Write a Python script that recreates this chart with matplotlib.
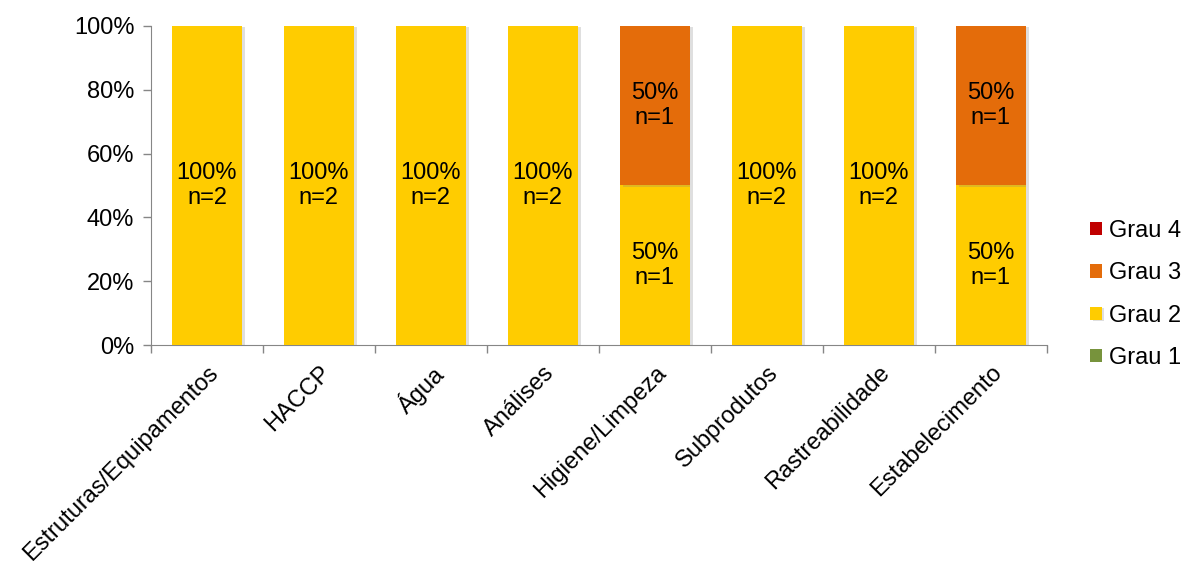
import matplotlib.pyplot as plt
import matplotlib.patheffects as pe
import numpy as np

plt.rcParams['font.family'] = ['Liberation Sans', 'DejaVu Sans']

# Dados
categorias = ['Estruturas/Equipamentos', 'HACCP', 'Água', 'Análises',
              'Higiene/Limpeza', 'Subprodutos', 'Rastreabilidade', 'Estabelecimento']
grau1 = [0, 0, 0, 0, 0, 0, 0, 0]
grau2 = [2, 2, 2, 2, 1, 2, 2, 1]
grau3 = [0, 0, 0, 0, 1, 0, 0, 1]
grau4 = [0, 0, 0, 0, 0, 0, 0, 0]

series = [('Grau 1', grau1, '#77933C'),
          ('Grau 2', grau2, '#FFCC00'),
          ('Grau 3', grau3, '#E46C0A'),
          ('Grau 4', grau4, '#C00000')]

total = np.array(grau1) + np.array(grau2) + np.array(grau3) + np.array(grau4)

fig = plt.figure(figsize=(11.82, 5.61), dpi=100)
ax = fig.add_axes([0.1277, 0.385, 0.758, 0.5687])

# sombra leve nas barras (estilo Excel)
sombra = [pe.SimplePatchShadow(offset=(2, -1), shadow_rgbFace='#808080', alpha=0.25), pe.Normal()]

x = np.arange(len(categorias))
base = np.zeros(len(categorias))
handles = []
for nome, vals, cor in series:
    vals = np.array(vals, dtype=float)
    pct = vals / total * 100
    b = ax.bar(x, pct, bottom=base, width=0.625, color=cor, label=nome, zorder=3)
    for r in b:
        if r.get_height() > 0:
            r.set_path_effects(sombra)
    handles.append(b)
    for i in range(len(x)):
        if vals[i] > 0:
            ax.text(x[i], base[i] + pct[i] / 2, f'{pct[i]:.0f}%\nn={int(vals[i])}',
                    ha='center', va='center', fontsize=17, color='#000000',
                    linespacing=1.15, zorder=4)
    base += pct

ax.set_xlim(-0.5, len(categorias) - 0.5)
ax.set_ylim(0, 100)
ax.set_yticks(np.arange(0, 101, 20))
ax.set_yticklabels([f'{v}%' for v in range(0, 101, 20)], fontsize=17)
ax.set_xticks(x)
ax.set_xticklabels(categorias, rotation=45, ha='right', rotation_mode='anchor', fontsize=17)
ax.tick_params(axis='x', length=0, pad=12)
ax.set_xticks(np.arange(-0.5, len(categorias), 1), minor=True)
ax.tick_params(axis='x', which='minor', length=6, color='#868686', width=1)
ax.tick_params(axis='y', length=6, color='#868686', width=1, pad=6)

for s in ['top', 'right']:
    ax.spines[s].set_visible(False)
ax.spines['left'].set_color('#868686')
ax.spines['bottom'].set_color('#868686')

fig.legend(handles[::-1], [s[0] for s in series][::-1], loc='center left',
           bbox_to_anchor=(0.922, 0.475), frameon=False, fontsize=17,
           borderpad=0, borderaxespad=0,
           handlelength=0.5, handleheight=0.5, handletextpad=0.3, labelspacing=0.86)

plt.savefig('out.png', dpi=100)
